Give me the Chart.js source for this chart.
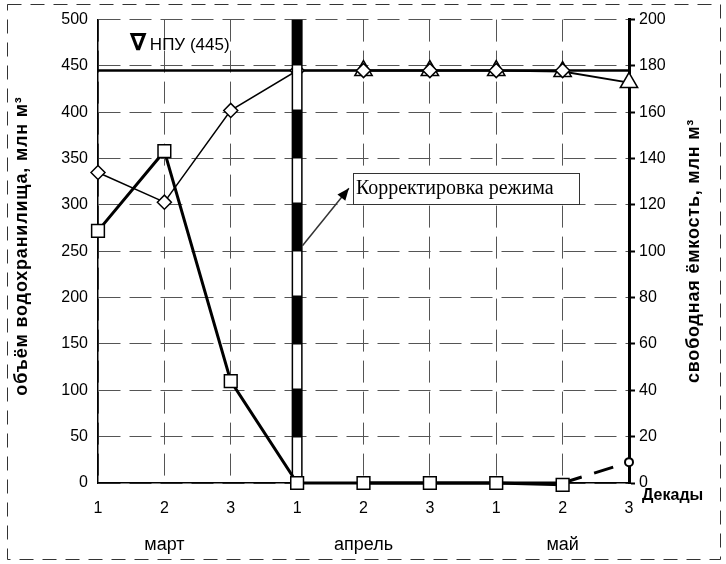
<!DOCTYPE html>
<html lang="ru">
<head>
<meta charset="utf-8">
<title>Объём водохранилища</title>
<script src="https://cdn.jsdelivr.net/npm/chart.js@4/dist/chart.umd.min.js"></script>
<style>
  html, body { margin: 0; padding: 0; background: #fff; }
  #wrap { width: 726px; height: 564px; }
</style>
</head>
<body>
<div id="wrap"><canvas id="reservoirChart" width="726" height="564"></canvas></div>
<script>
/* ============================================================
   Объём водохранилища / свободная ёмкость по декадам
   ============================================================ */

// x axis: decades and months under them
const decades = ["1", "2", "3", "1", "2", "3", "1", "2", "3"];
const months = ["", "март", "", "", "апрель", "", "", "май", ""];

// left axis (объём, млн м3)
const leftTicks = [0, 50, 100, 150, 200, 250, 300, 350, 400, 450, 500];
const volumeDiamonds = [335, 303, 402, 445, 445, 445, 445, 445, null];
const volumeTriangles = [null, null, null, null, 445, 445, 445, 444, 432];
const volumeSquares = [272, 358, 110, 0, 0, 0, 0, -2, null];
const npuLevel = [445, 445, 445, 445, 445, 445, 445, 445, 445];

// right axis (свободная ёмкость, млн м3)
const rightTicks = [0, 20, 40, 60, 80, 100, 120, 140, 160, 180, 200];
const freeCircles = [null, null, null, null, 0, 0, 0, 0, 9];

// correction mark at april decade 1 and its note
const correctionDecade = 3;
const correctionSpan = [500, 0];
const noteArrow = [[3.08, 256], [3.78, 318]];
const noteBox = [3.84, 335, 7.25, 302];

const FONT = '"Liberation Sans", Arial, "DejaVu Sans", sans-serif';

function toPoints(values) {
  return values.map((v, i) => ({ x: i, y: v }));
}

/* ══════════════════════════════════════
   EXTRA TEXT / FRAME
   ══════════════════════════════════════ */

const extras = {
  id: "extras",
  afterDraw(chart) {
    const { ctx, scales } = chart;
    const x = scales.x, y = scales.y;
    ctx.save();

    // dashed frame around the picture
    ctx.strokeStyle = "#333";
    ctx.lineWidth = 1;
    ctx.setLineDash([14, 9]);
    ctx.strokeRect(7.5, 4.5, 713, 555);
    ctx.setLineDash([]);

    ctx.fillStyle = "#000";

    // month names under the decades
    ctx.font = "18px " + FONT;
    ctx.textAlign = "center";
    ctx.textBaseline = "middle";
    months.forEach((m, i) => {
      if (m) ctx.fillText(m, x.getPixelForValue(i), 545);
    });

    // axis titles, both read bottom to top
    ctx.font = "bold 18px " + FONT;
    ctx.letterSpacing = "0.8px";
    ctx.save();
    ctx.translate(22, 246);
    ctx.rotate(-Math.PI / 2);
    ctx.fillText("объём водохранилища, млн м³", 0, 0);
    ctx.restore();
    ctx.save();
    ctx.translate(694, 251);
    ctx.rotate(-Math.PI / 2);
    ctx.fillText("свободная ёмкость, млн м³", 0, 0);
    ctx.restore();
    ctx.letterSpacing = "0px";

    // НПУ label
    ctx.textAlign = "left";
    ctx.textBaseline = "alphabetic";
    ctx.font = "bold 24px " + FONT;
    const nx = x.getPixelForValue(0.48), ny = y.getPixelForValue(467);
    ctx.fillText("∇", nx, ny);
    ctx.font = "17px " + FONT;
    ctx.fillText("НПУ (445)", nx + 20, ny);

    // "Декады"
    ctx.font = "bold 16px " + FONT;
    ctx.fillText("Декады", x.right + 13, x.top + 17);

    // note arrow
    const ax0 = x.getPixelForValue(noteArrow[0][0]), ay0 = y.getPixelForValue(noteArrow[0][1]);
    const ax1 = x.getPixelForValue(noteArrow[1][0]), ay1 = y.getPixelForValue(noteArrow[1][1]);
    ctx.lineWidth = 1.5;
    ctx.beginPath();
    ctx.moveTo(ax0, ay0);
    ctx.lineTo(ax1, ay1);
    ctx.stroke();
    const ang = Math.atan2(ay1 - ay0, ax1 - ax0);
    ctx.beginPath();
    ctx.moveTo(ax1, ay1);
    ctx.lineTo(ax1 - 13 * Math.cos(ang - 0.4), ay1 - 13 * Math.sin(ang - 0.4));
    ctx.lineTo(ax1 - 13 * Math.cos(ang + 0.4), ay1 - 13 * Math.sin(ang + 0.4));
    ctx.closePath();
    ctx.fill();

    // note box
    const bx0 = x.getPixelForValue(noteBox[0]), by0 = y.getPixelForValue(noteBox[1]);
    const bx1 = x.getPixelForValue(noteBox[2]), by1 = y.getPixelForValue(noteBox[3]);
    ctx.fillStyle = "#fff";
    ctx.fillRect(bx0, by0, bx1 - bx0, by1 - by0);
    ctx.lineWidth = 1;
    ctx.strokeRect(Math.round(bx0) + 0.5, Math.round(by0) + 0.5, Math.round(bx1 - bx0), Math.round(by1 - by0));
    ctx.fillStyle = "#000";
    ctx.font = '20px "Liberation Serif", "Times New Roman", serif';
    ctx.textBaseline = "middle";
    ctx.fillText("Корректировка режима", bx0 + 3, (by0 + by1) / 2 + 1);

    ctx.restore();
  }
};

/* ══════════════════════════════════════
   CHART
   ══════════════════════════════════════ */

const barPoints = correctionSpan.map(v => ({ x: correctionDecade, y: v }));

new Chart(document.getElementById("reservoirChart"), {
  type: "line",
  data: {
    datasets: [
      {
        label: "squares",
        data: toPoints(volumeSquares),
        borderColor: "#000",
        borderWidth: 3,
        tension: 0,
        pointStyle: "rect",
        pointRadius: 9,
        pointBackgroundColor: "#fff",
        pointBorderColor: "#000",
        pointBorderWidth: 1.5,
        clip: false
      },
      {
        label: "circles",
        yAxisID: "yR",
        data: toPoints(freeCircles),
        borderColor: "#000",
        borderWidth: 3,
        pointStyle: "circle",
        pointRadius: 4,
        pointBackgroundColor: "#fff",
        pointBorderColor: "#000",
        pointBorderWidth: 2,
        segment: { borderDash: c => c.p1DataIndex === 8 ? [20, 13] : undefined },
        clip: false
      },
      {
        label: "barWhite",
        data: barPoints,
        borderColor: "#fff",
        borderWidth: 8,
        borderCapStyle: "butt",
        borderDash: [44, 49],
        borderDashOffset: 47,
        pointRadius: 0
      },
      {
        label: "barBlack",
        data: barPoints,
        borderColor: "#000",
        borderWidth: 11,
        borderCapStyle: "butt",
        pointRadius: 0
      },
      {
        label: "diamonds",
        data: toPoints(volumeDiamonds),
        borderColor: "#000",
        borderWidth: 1.5,
        pointStyle: "rectRot",
        pointRadius: 7,
        pointBackgroundColor: "#fff",
        pointBorderColor: "#000",
        pointBorderWidth: 1.5,
        clip: false
      },
      {
        label: "triangles",
        data: toPoints(volumeTriangles),
        borderColor: "#000",
        borderWidth: 2,
        pointStyle: "triangle",
        pointRadius: 10,
        pointBackgroundColor: "#fff",
        pointBorderColor: "#000",
        pointBorderWidth: 1.5,
        clip: false
      },
      {
        label: "npu",
        data: toPoints(npuLevel),
        borderColor: "#000",
        borderWidth: 2.5,
        pointRadius: 0
      }
    ]
  },
  options: {
    responsive: false,
    animation: false,
    layout: { padding: { top: 19, left: 0, right: 0, bottom: 0 } },
    plugins: { legend: { display: false }, tooltip: { enabled: false } },
    scales: {
      x: {
        type: "linear",
        min: 0,
        max: decades.length - 1,
        afterFit: s => { s.height = 81; },
        afterBuildTicks: s => { s.ticks = decades.map((d, i) => ({ value: i })); },
        grid: { color: "#555", lineWidth: 1, drawTicks: false },
        border: { color: "#000", width: 1.5, dash: [22, 9] },
        ticks: {
          color: "#000",
          padding: 16,
          maxRotation: 0,
          autoSkip: false,
          font: { family: FONT, size: 16 },
          callback: v => decades[v]
        }
      },
      y: {
        position: "left",
        min: leftTicks[0],
        max: leftTicks[leftTicks.length - 1],
        afterFit: s => { s.width = 98; },
        afterBuildTicks: s => { s.ticks = leftTicks.map(v => ({ value: v })); },
        grid: { color: "#555", lineWidth: 1, drawTicks: false },
        border: { color: "#000", width: 1.5, dash: [22, 9] },
        ticks: { color: "#000", padding: 10, font: { family: FONT, size: 16 } }
      },
      yR: {
        position: "right",
        min: rightTicks[0],
        max: rightTicks[rightTicks.length - 1],
        afterFit: s => { s.width = 97; },
        afterBuildTicks: s => { s.ticks = rightTicks.map(v => ({ value: v })); },
        grid: { drawOnChartArea: false, tickLength: 6, tickWidth: 2, tickColor: "#000" },
        border: { color: "#000", width: 3 },
        ticks: { color: "#000", padding: 4, font: { family: FONT, size: 16 } }
      }
    }
  },
  plugins: [extras]
});
</script>
</body>
</html>
